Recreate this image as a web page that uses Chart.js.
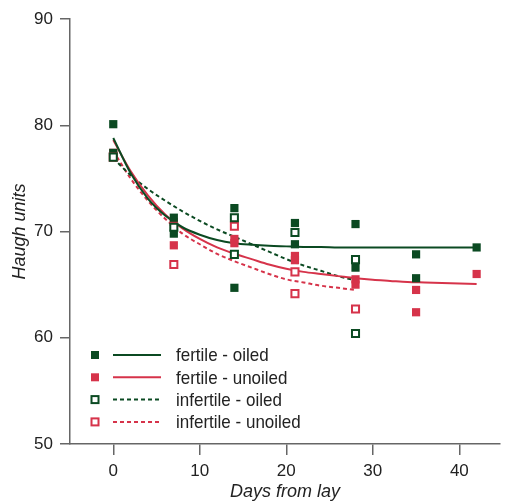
<!DOCTYPE html>
<html>
<head>
<meta charset="utf-8">
<script src="https://cdn.jsdelivr.net/npm/chart.js@4"></script>
<style>
  html, body { margin: 0; padding: 0; background: #fff; }
  #wrap { width: 507px; height: 504px; }
</style>
</head>
<body>
<div id="wrap"><canvas id="graph_haugh"></canvas></div>
<script>
// series names
var seriesNames = ['fertile - oiled', 'fertile - unoiled', 'infertile - oiled', 'infertile - unoiled'];

var fertOiledDays = [0, 0, 7, 7, 14, 14, 21, 21, 28, 28, 35, 35, 42];
var fertOiledHU = [80.1, 77.4, 71.3, 69.8, 72.2, 64.7, 70.8, 68.8, 70.7, 66.6, 67.85, 65.6, 68.5];
var fertUnoiledDays = [0, 0, 7, 7, 14, 14, 21, 21, 28, 28, 35, 35, 42];
var fertUnoiledHU = [77.4, 77.1, 70.9, 68.7, 69.3, 68.9, 67.7, 67.3, 65.5, 65.0, 64.5, 62.4, 66.0];
var infOiledDays = [0, 7, 14, 14, 21, 28, 28];
var infOiledHU = [77.0, 70.4, 71.3, 67.85, 69.9, 67.35, 60.4];
var infUnoiledDays = [0, 7, 14, 21, 21, 28];
var infUnoiledHU = [77.0, 66.9, 70.5, 66.2, 64.15, 62.7];

// fitted curves
var fertCurveDays = [0, 2, 4, 6, 8, 10, 12, 14, 16, 18, 20, 22, 24, 26, 28, 30, 32, 34, 36, 38, 40, 42];
var fertOiledFit = [78.8, 75.5, 73.1, 71.5, 70.4, 69.7, 69.2, 68.9, 68.75, 68.65, 68.6, 68.55, 68.55, 68.5, 68.5, 68.5, 68.5, 68.5, 68.5, 68.5, 68.5, 68.5];
var fertUnoiledFit = [78.6, 75.7, 73.4, 71.6, 70.3, 69.3, 68.5, 67.9, 67.4, 66.9, 66.5, 66.2, 66.0, 65.8, 65.6, 65.45, 65.35, 65.25, 65.2, 65.15, 65.1, 65.05];
var infCurveDays = [0, 2, 4, 6, 8, 10, 12, 14, 16, 18, 20, 22, 24, 26, 28];
var infOiledFit = [76.9, 75.3, 74.0, 72.9, 71.9, 71.0, 70.2, 69.5, 68.8, 68.1, 67.4, 66.8, 66.3, 65.8, 65.4];
var infUnoiledFit = [77.6, 75.0, 72.9, 71.2, 69.8, 68.8, 67.9, 67.2, 66.6, 66.0, 65.5, 65.2, 64.9, 64.7, 64.5];

var xTicks = [0, 10, 20, 30, 40];

var green = '#0b4a22';
var red = '#d6334a';
var fontFam = "'Liberation Sans', Arial, sans-serif";

function pts(days, vals) {
  return days.map(function (d, i) { return { x: d, y: vals[i] }; });
}

function markers(label, days, vals, col, open) {
  return {
    label: label,
    data: pts(days, vals),
    showLine: false,
    pointStyle: 'rect',
    pointRadius: open ? 5 : 5.8,
    pointBackgroundColor: open ? '#fff' : col,
    pointBorderColor: col,
    pointBorderWidth: open ? 2 : 0,
    pointHoverRadius: 0
  };
}

function curve(label, days, vals, col, dashed) {
  return {
    label: label,
    data: pts(days, vals),
    showLine: true,
    borderColor: col,
    borderWidth: 2,
    borderDash: dashed ? [4, 3] : [],
    cubicInterpolationMode: 'monotone',
    pointRadius: 0,
    fill: false
  };
}

// legend: marker + line sample + text (text squeezed to look like a narrow face)
var legendBox = {
  id: 'legendBox',
  afterDraw: function (chart) {
    var ctx = chart.ctx;
    var cols = [green, red, green, red];
    ctx.save();
    ctx.textBaseline = 'middle';
    for (let i = 0; i < seriesNames.length; i++) {
      var y = 355 + i * 22.3;
      var open = i >= 2;
      if (open) {
        ctx.fillStyle = '#fff';
        ctx.fillRect(91.5, y - 3.5, 7, 7);
        ctx.strokeStyle = cols[i];
        ctx.lineWidth = 2;
        ctx.strokeRect(91.5, y - 3.5, 7, 7);
      } else {
        ctx.fillStyle = cols[i];
        ctx.fillRect(91, y - 4, 8, 8);
      }
      ctx.beginPath();
      ctx.strokeStyle = cols[i];
      ctx.lineWidth = 2;
      ctx.setLineDash(open ? [4, 3] : []);
      ctx.moveTo(113, y);
      ctx.lineTo(161, y);
      ctx.stroke();
      ctx.setLineDash([]);

      ctx.save();
      ctx.translate(176, y + 1);
      ctx.scale(0.895, 1);
      ctx.font = '19px ' + fontFam;
      ctx.fillStyle = '#222';
      ctx.fillText(seriesNames[i], 0, 0);
      ctx.restore();
    }
    ctx.restore();
  }
};

var ctx = document.getElementById('graph_haugh').getContext('2d');

var Graph_haugh = new Chart(ctx, {
  type: 'scatter',
  data: {
    datasets: [
      markers(seriesNames[2], infOiledDays, infOiledHU, green, true),
      markers(seriesNames[3], infUnoiledDays, infUnoiledHU, red, true),
      markers(seriesNames[0], fertOiledDays, fertOiledHU, green, false),
      markers(seriesNames[1], fertUnoiledDays, fertUnoiledHU, red, false),
      curve(seriesNames[0], fertCurveDays, fertOiledFit, green, false),
      curve(seriesNames[1], fertCurveDays, fertUnoiledFit, red, false),
      curve(seriesNames[2], infCurveDays, infOiledFit, green, true),
      curve(seriesNames[3], infCurveDays, infUnoiledFit, red, true)
    ]
  },
  options: {
    responsive: true,
    maintainAspectRatio: false,
    animation: false,
    layout: { padding: { top: 19, right: 0, left: 0, bottom: 0 } },
    plugins: {
      legend: { display: false },
      tooltip: { enabled: false }
    },
    scales: {
      x: {
        type: 'linear',
        min: -5,
        max: 44.7,
        afterBuildTicks: function (s) { s.ticks = xTicks.map(function (v) { return { value: v }; }); },
        afterFit: function (s) { s.height = 60; },
        border: { color: '#666', width: 1.5 },
        grid: { drawOnChartArea: false, drawTicks: true, tickLength: 11, color: '#666', lineWidth: 1.5 },
        ticks: { color: '#222', font: { family: fontFam, size: 17 }, padding: 6, maxRotation: 0 },
        title: {
          display: true,
          text: 'Days from lay',
          color: '#222',
          font: { family: fontFam, size: 18, style: 'italic' },
          padding: { top: 0, bottom: 1 }
        }
      },
      y: {
        min: 50,
        max: 90,
        afterFit: function (s) { s.width = 70; },
        border: { color: '#666', width: 1.5 },
        grid: { drawOnChartArea: false, drawTicks: true, tickLength: 10, color: '#666', lineWidth: 1.5 },
        ticks: { stepSize: 10, color: '#222', font: { family: fontFam, size: 17 }, padding: 7 },
        title: {
          display: true,
          text: 'Haugh units',
          color: '#222',
          font: { family: fontFam, size: 18, style: 'italic' },
          padding: { top: 9, bottom: 0 }
        }
      }
    }
  },
  plugins: [legendBox]
});
</script>
</body>
</html>
